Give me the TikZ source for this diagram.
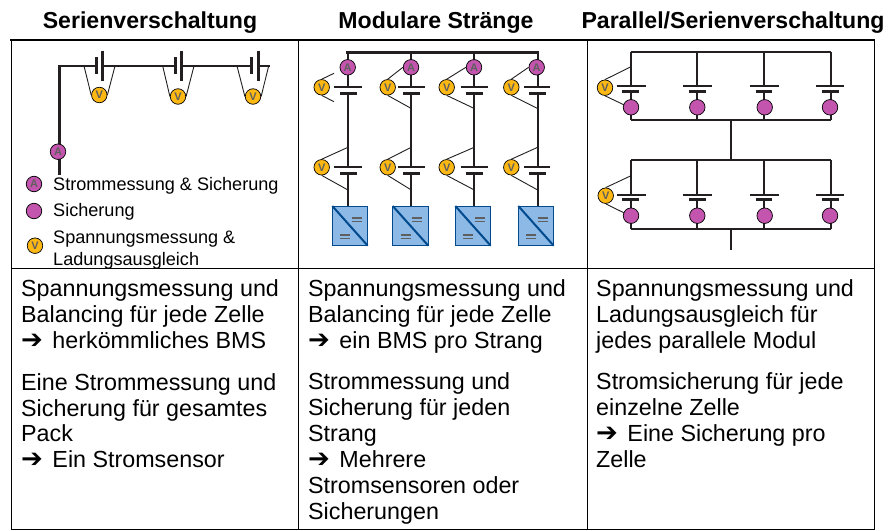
\documentclass[tikz,border=0pt]{standalone}
\usepackage{fontspec}
\setmainfont{Liberation Sans}
\newfontfamily\symfont{DejaVu Sans Bold}
\definecolor{wire}{HTML}{231F20}
\definecolor{mag}{HTML}{C355AE}
\definecolor{amb}{HTML}{FDB813}
\definecolor{sym}{HTML}{5F5F5F}
\definecolor{boxfill}{HTML}{8DB9E6}
\definecolor{boxline}{HTML}{004A8D}
\newcommand{\arr}{{\symfont\fontsize{26}{20}\selectfont ➔}\hspace{3pt}}
\tikzset{
  grid line/.style={draw=black,line width=1pt},
  frame line/.style={draw=black,line width=2pt},
  thick wire/.style={draw=wire,line width=2.4pt},
  mid wire/.style={draw=wire,line width=2.1pt},
  plate/.style={draw=wire,line width=2pt},
  short plate/.style={draw=wire,line width=3pt},
  thin wire/.style={draw=wire,line width=.9pt},
  meter/.style={circle,draw=black,line width=.7pt,minimum size=15.5pt,inner sep=0pt,
     font=\bfseries\fontsize{11}{12}\selectfont,text=sym},
  ameter/.style={meter,fill=mag},
  vmeter/.style={meter,fill=amb},
  fuse/.style={meter,fill=mag},
  head/.style={anchor=base,font=\bfseries\fontsize{23.1}{26}\selectfont},
  body/.style={anchor=base west,inner sep=0pt,font=\fontsize{23.3}{26}\selectfont},
  legend/.style={anchor=base west,inner sep=0pt,font=\fontsize{18.1}{20}\selectfont},
  conv/.style={draw=boxline,fill=boxfill,line width=1pt},
  conv diag/.style={draw=boxline,line width=2pt},
  conv eq/.style={draw=sym,line width=1.3pt}
}
\begin{document}
\begin{tikzpicture}[x=1pt,y=-1pt]
\useasboundingbox (0,0) rectangle (888,530);
% titles
\node[head] (t1) at (150,28) {Serienverschaltung};
\node[head] (t2) at (436,28) {Modulare Stränge};
\node[head] (t3) at (733,28) {Parallel/Serienverschaltung};
% table
\coordinate (tl) at (11,40); \coordinate (tr) at (874,40);
\coordinate (bl) at (11,529); \coordinate (br) at (874,529);
\draw[grid line] (tl) -- (bl) -- (br) -- (tr);
\draw[frame line] (10,40) -- (875,40);
\draw[grid line] (298.5,40) -- (298.5,529);
\draw[grid line] (587.5,40) -- (587.5,529);
\draw[grid line] (11,268.5) -- (874,268.5);

% ---------- series ----------
\draw[thick wire,line join=miter] (96,65.7) -- (59.3,65.7) -- (59.3,175);
\draw[thick wire] (103,65.7) -- (175,65.7);
\draw[thick wire] (181.7,65.7) -- (251,65.7);
\draw[thick wire] (258.3,65.7) -- (270,65.7);
\foreach \a/\b in {96/102.7,175/181.7,251/258.3}{
  \draw[draw=wire,line width=3pt] (\a,57) -- (\a,74);
  \draw[draw=wire,line width=3pt] (\b,50.7) -- (\b,81);
}
\foreach \n/\x/\y/\l/\r in {s1/99.3/95/84/115,s2/178/96.5/162.7/194,s3/253/96.5/237/268.7}{
  \node[vmeter] (\n) at (\x,\y) {V};
  \coordinate (\n l) at (\l,66);
  \coordinate (\n r) at (\r,66);
  \draw[thin wire] (\n l) -- (\n.west);
  \draw[thin wire] (\n r) -- (\n.east);
}
\node[ameter] (sa) at (58,151.7) {A};
% legend
\node[ameter] (la) at (34,184) {A};
\node[fuse] (lf) at (34,211) {};
\node[vmeter] (lv) at (35,245.7) {V};
\node[legend] (l1) at (53,190) {Strommessung \& Sicherung};
\node[legend] (l2) at (53,216.5) {Sicherung};
\node[legend] (l3) at (53,243) {Spannungsmessung \&};
\node[legend] (l4) at (53,265) {Ladungsausgleich};

% ---------- modular ----------
\draw[thick wire] (346,52.3) -- (539,52.3);
\foreach \i/\w/\ax/\vx/\lla/\llb/\sla/\slb/\ba/\bb in {
  1/348/347.7/321.7/334.3/361.7/340/356.7/332.3/367.7,
  2/411.3/411/387.7/397.7/425/403/419.7/392.7/428.3,
  3/474.3/474/446.7/460.7/488.3/466/482.7/455.3/490.7,
  4/537.7/536.7/511.3/524/550.3/529.3/546/518.3/553.7}{
  \draw[mid wire] (\w,52.3) -- (\w,87.3);
  \draw[mid wire] (\w,93.7) -- (\w,167);
  \draw[mid wire] (\w,173.3) -- (\w,206);
  \foreach \py/\qy in {87.3/93.7,167/173.3}{
    \draw[plate] (\lla,\py) -- (\llb,\py);
    \draw[short plate] (\sla,\qy) -- (\slb,\qy);
  }
  \node[ameter] (ma\i) at (\ax,67.3) {A};
  \node[vmeter] (mv\i) at (\vx,87.3) {V};
  \node[vmeter] (mw\i) at (\vx,167.3) {V};
  \draw[thin wire] (mw\i.north) -- (\w,147.3);
  \draw[thin wire] (mw\i.south) -- (\w,190);
  \draw[conv] (\ba,206) rectangle (\bb,245.7);
  \draw[conv diag] (\ba,206) -- (\bb,245.7);
  \draw[conv eq] (\bb-16,218) -- (\bb-6,218) (\bb-16,221.5) -- (\bb-6,221.5);
  \draw[conv eq] (\ba+8,235) -- (\ba+18,235) (\ba+8,238.5) -- (\ba+18,238.5);
}
\coordinate (mf1) at (334,73.3); \coordinate (mf2) at (334,101.7);
\draw[thin wire] (mv1.north) -- (mf1);
\draw[thin wire] (mv1.south) -- (mf2);
\foreach \i/\w in {2/411.3,3/474.3,4/537.7}{
  \draw[thin wire] (mv\i.north) -- (ma\i.west);
  \draw[thin wire] (mv\i.south) -- (\w,108.5);
}

% ---------- parallel / series ----------
\foreach \tb/\bb/\ly/\sy/\cy in {52/120.3/86.3/91.3/107.3,160/229/194.7/199.7/215.7}{
  \draw[mid wire,line cap=square] (631,\tb) -- (831,\tb);
  \draw[mid wire,line cap=square] (631,\bb) -- (831,\bb);
  \foreach \w/\lla/\llb/\sla/\slb/\cx in {
    631/616.7/645.7/622.3/639.3/631,
    697.3/683/712.3/689/705.7/697.3,
    764/749.7/778.7/755.7/772.3/764.7,
    831/816.3/844.3/822/838.7/830}{
    \draw[mid wire] (\w,\tb) -- (\w,\ly);
    \draw[mid wire] (\w,\sy) -- (\w,\bb);
    \draw[plate] (\lla,\ly) -- (\llb,\ly);
    \draw[short plate] (\sla,\sy) -- (\slb,\sy);
    \node[fuse] at (\cx,\cy) {};
  }
}
\draw[mid wire] (730.7,120.3) -- (730.7,160);
\draw[mid wire] (730.7,229) -- (730.7,250);
\node[vmeter] (pv1) at (605,87.7) {V};
\node[vmeter] (pv2) at (605.7,195.7) {V};
\draw[thin wire] (pv1.north) -- (631,66.7);
\draw[thin wire] (pv1.south) -- (624.3,105);
\draw[thin wire] (pv2.north) -- (631,175.7);
\draw[thin wire] (pv2.south) -- (624.3,213);

% ---------- body text ----------
\foreach \n/\y/\t in {
  a1/296/Spannungsmessung und,
  a2/322/Balancing für jede Zelle,
  a3/348/\arr{} herkömmliches BMS,
  a4/390/Eine Strommessung und,
  a5/416/Sicherung für gesamtes,
  a6/441/Pack,
  a7/467/\arr{} Ein Stromsensor}{
  \node[body] (\n) at (21,\y) {\t};
}
\foreach \n/\y/\t in {
  b1/296/Spannungsmessung und,
  b2/322/Balancing für jede Zelle,
  b3/348/\arr{} ein BMS pro Strang,
  b4/389/Strommessung und,
  b5/415/Sicherung für jeden,
  b6/441/Strang,
  b7/467/\arr{} Mehrere,
  b8/493/Stromsensoren oder,
  b9/519/Sicherungen}{
  \node[body] (\n) at (308,\y) {\t};
}
\foreach \n/\y/\t in {
  c1/296/Spannungsmessung und,
  c2/322/Ladungsausgleich für,
  c3/348/jedes parallele Modul,
  c4/389/Stromsicherung für jede,
  c5/415/einzelne Zelle,
  c6/441/\arr{} Eine Sicherung pro,
  c7/467/Zelle}{
  \node[body] (\n) at (596,\y) {\t};
}
\end{tikzpicture}
\end{document}
